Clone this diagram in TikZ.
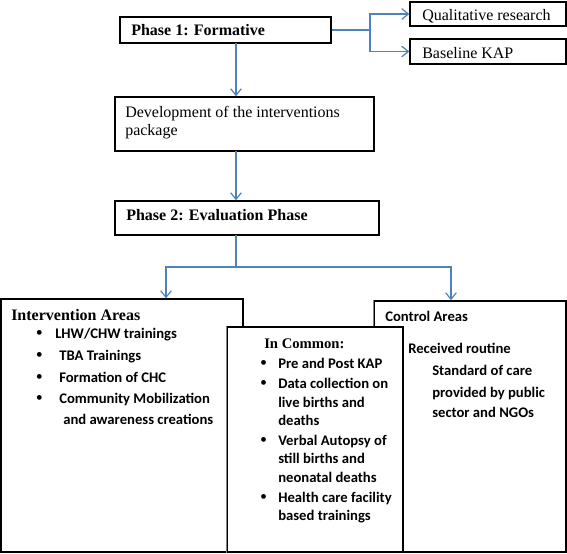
\documentclass[tikz,border=0pt]{standalone}
\usepackage{fontspec}
\setmainfont{Liberation Serif}
\newfontfamily\calfont{Carlito}
\usetikzlibrary{arrows.meta,fit}
\definecolor{arrowblue}{HTML}{4F81BD}
\definecolor{edgegray}{HTML}{808080}
\begin{document}
\begin{tikzpicture}[x=0.75pt,y=-0.75pt,
 box/.style={draw=black,line width=1pt,fill=white,inner sep=0pt},
 arr/.style={draw=arrowblue,line width=0.9pt,-{Straight Barb[length=5pt,width=8pt]}},
 ln/.style={draw=arrowblue,line width=0.9pt},
 serifb/.style={anchor=base west,inner sep=0pt,font=\fontsize{12}{14}\selectfont\bfseries},
 serifc/.style={anchor=base west,inner sep=0pt,font=\fontsize{11}{13}\selectfont\bfseries},
 serif/.style={anchor=base west,inner sep=0pt,font=\fontsize{12}{14}\selectfont},
 sans/.style={anchor=base west,inner sep=0pt,font=\calfont\fontsize{11}{13}\selectfont\bfseries},
 bul/.style={anchor=base,inner sep=0pt,font=\fontsize{15}{15}\selectfont}]
\useasboundingbox (0,0) rectangle (567,553);
% boxes
\node[box,fit={(120,17)(331,43)}] (p1) {};
\node[box,fit={(410,2)(566,26)}] (qual) {};
\node[box,fit={(410,39)(566,64)}] (base) {};
\node[box,fit={(115,97)(374,151)}] (dev) {};
\node[box,fit={(115,201)(379,235)}] (p2) {};
\node[box,fit={(1,299)(243,552)}] (inter) {};
\node[box,fit={(374,301)(566,552)}] (ctrl) {};
\draw[edgegray,line width=1pt] (ctrl.north west) -- (ctrl.south west);
\node[box,fit={(227,327)(403,552)}] (common) {};
\draw[edgegray,line width=1pt] (common.north west) -- (common.south west);
% connectors
\coordinate (s1) at (370,30);
\draw[arr] (p1.east) -- (s1) |- (qual.west);
\draw[arr] (s1) |- (base.west);
\coordinate (a1) at (236,43);
\draw[arr] (a1) -- (a1 |- dev.north);
\coordinate (a2) at (236,151);
\draw[arr] (a2) -- (a2 |- p2.north);
\coordinate (a3) at (236,235);
\coordinate (j) at (236,267);
\coordinate (lj) at (166,267);
\coordinate (rj) at (451,267);
\draw[ln] (a3) -- (j);
\draw[arr] (j) -- (lj) -- (lj |- inter.north);
\draw[arr] (j) -- (rj) -- (rj |- ctrl.north);
% texts
\node[serifb] (t1) at (131,36) {Phase 1: Formative};
\node[serif] (tq) at (422,20) {Qualitative research};
\node[serif] (tb) at (422,58) {Baseline KAP};
\node[serif] (td1) at (125,117) {Development of the interventions};
\node[serif] (td2) at (125,135) {package};
\node[serifb] (t2) at (126,220) {Phase 2: Evaluation Phase};
% intervention
\node[serifb] (ti) at (11,320) {Intervention Areas};
\node[bul] (ib1) at (39.5,339) {•};
\node[bul] (ib2) at (39.5,361) {•};
\node[bul] (ib3) at (39.5,383) {•};
\node[bul] (ib4) at (39.5,404) {•};
\node[sans] (i1) at (55,338) {LHW/CHW trainings};
\node[sans] (i2) at (59,360) {TBA Trainings};
\node[sans] (i3) at (59,382) {Formation of CHC};
\node[sans] (i4) at (59,403) {Community Mobilization};
\node[sans] (i5) at (63,424) {and awareness creations};
% common
\node[serifc] (tc) at (264,348) {In Common:};
\node[bul] (cb1) at (263.5,369) {•};
\node[bul] (cb2) at (263.5,389) {•};
\node[bul] (cb3) at (263.5,446) {•};
\node[bul] (cb4) at (263.5,503) {•};
\node[sans] (c1) at (278,368) {Pre and Post KAP};
\node[sans] (c2) at (278,388) {Data collection on};
\node[sans] (c3) at (278,407) {live births and};
\node[sans] (c4) at (278,425) {deaths};
\node[sans] (c5) at (278,445) {Verbal Autopsy of};
\node[sans] (c6) at (278,463) {still births and};
\node[sans] (c7) at (278,482) {neonatal deaths};
\node[sans] (c8) at (278,502) {Health care facility};
\node[sans] (c9) at (278,520) {based trainings};
% control
\node[sans] (tk) at (385,321) {Control Areas};
\node[sans] (k1) at (408,353) {Received routine};
\node[sans] (k2) at (432,375) {Standard of care};
\node[sans] (k3) at (432,397) {provided by public};
\node[sans] (k4) at (432,417) {sector and NGOs};
\end{tikzpicture}
\end{document}
